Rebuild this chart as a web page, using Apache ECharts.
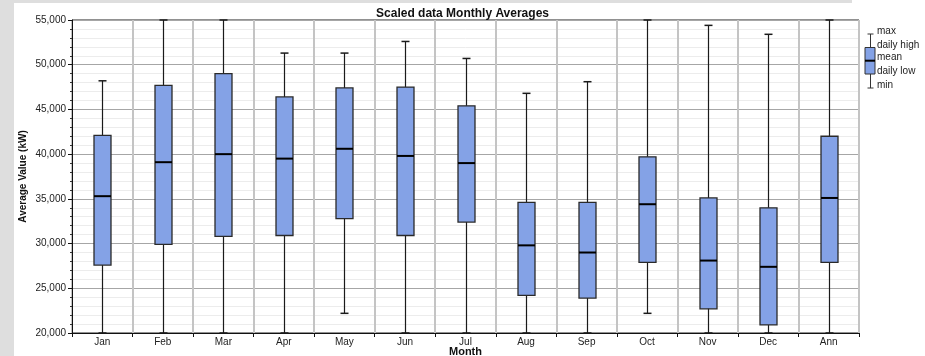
<!DOCTYPE html>
<html>
<head>
<meta charset="utf-8">
<script src="https://cdn.jsdelivr.net/npm/echarts@6/dist/echarts.min.js"></script>
<style>
html,body{margin:0;padding:0;background:#fff;}
#c{width:925px;height:356px;}
</style>
</head>
<body>
<div id="c"></div>
<script>
const months = ['Jan','Feb','Mar','Apr','May','Jun','Jul','Aug','Sep','Oct','Nov','Dec','Ann'];
const maxVals  = [48200, 55000, 55000, 51300, 51300, 52600, 50700, 46800, 48100, 55000, 54400, 53400, 55000];
const highVals = [42100, 47700, 49000, 46400, 47400, 47500, 45400, 34600, 34600, 39700, 35100, 34000, 42000];
const meanVals = [35300, 39100, 40000, 39500, 40600, 39800, 39000, 29800, 29000, 34400, 28100, 27400, 35100];
const lowVals  = [27600, 29900, 30800, 30900, 32800, 30900, 32400, 24200, 23900, 27900, 22700, 20900, 27900];
const minVals  = [20000, 20000, 20000, 20000, 22200, 20000, 20000, 20000, 20000, 22200, 20000, 20000, 20000];
const yTicks = [20000, 25000, 30000, 35000, 40000, 45000, 50000, 55000];

const FONT = '"Liberation Sans", Arial, sans-serif';
const BOX_FILL = '#84a2e6';

const chart = echarts.init(document.getElementById('c'), null, {renderer:'canvas'});

const data = months.map((m, i) => [i, maxVals[i], highVals[i], meanVals[i], lowVals[i], minVals[i]]);

function renderBox(params, api) {
  const x = api.value(0);
  const pMax = api.coord([x, api.value(1)]);
  const pHigh = api.coord([x, api.value(2)]);
  const pMean = api.coord([x, api.value(3)]);
  const pLow = api.coord([x, api.value(4)]);
  const pMin = api.coord([x, api.value(5)]);
  const cx = Math.round(pMax[0]) + 0.5;
  const bw = Math.round(api.size([1, 0])[0] * 0.28);
  const cap = 4;
  return {
    type: 'group',
    children: [
      {type:'line', shape:{x1:cx, y1:pMax[1], x2:cx, y2:pMin[1]}, style:{stroke:'#1a1a1a', lineWidth:1.2}},
      {type:'line', shape:{x1:cx-cap, y1:pMax[1], x2:cx+cap, y2:pMax[1]}, style:{stroke:'#1a1a1a', lineWidth:1.5}},
      {type:'line', shape:{x1:cx-cap, y1:pMin[1], x2:cx+cap, y2:pMin[1]}, style:{stroke:'#1a1a1a', lineWidth:1.5}},
      {type:'rect', shape:{x:cx-bw/2, y:pHigh[1], width:bw, height:pLow[1]-pHigh[1]}, style:{fill:BOX_FILL, stroke:'#2a2a2a', lineWidth:1.3}},
      {type:'line', shape:{x1:cx-bw/2, y1:pMean[1], x2:cx+bw/2, y2:pMean[1]}, style:{stroke:'#000', lineWidth:2}}
    ]
  };
}

// legend icon + labels
const lx = 870.5;
const legendTexts = [['max',32.7],['daily high',46],['mean',58.7],['daily low',72.7],['min',86]];
const graphics = [
  {type:'rect', shape:{x:0,y:0,width:14,height:356}, style:{fill:'#dedede'}, z:-10},
  {type:'rect', shape:{x:0,y:0,width:852,height:3}, style:{fill:'#dedede'}, z:-10},
  {type:'line', shape:{x1:lx,y1:34,x2:lx,y2:88}, style:{stroke:'#333',lineWidth:1}},
  {type:'line', shape:{x1:lx-3,y1:34,x2:lx+3,y2:34}, style:{stroke:'#333',lineWidth:1}},
  {type:'line', shape:{x1:lx-3,y1:88,x2:lx+3,y2:88}, style:{stroke:'#333',lineWidth:1}},
  {type:'rect', shape:{x:865,y:47.5,width:10,height:26.5}, style:{fill:BOX_FILL,stroke:'#333',lineWidth:1}},
  {type:'line', shape:{x1:865,y1:60.7,x2:875,y2:60.7}, style:{stroke:'#000',lineWidth:2}}
];
legendTexts.forEach(([t, y]) => {
  graphics.push({type:'text', left:877, top:y-6, style:{text:t, fill:'#222', font:'10px ' + FONT}});
});

chart.setOption({
  animation: false,
  backgroundColor: '#fff',
  title: {
    text: 'Scaled data Monthly Averages',
    left: 'center', top: 3,
    textStyle: {fontFamily: FONT, fontSize: 12, fontWeight: 'bold', color: '#111'}
  },
  grid: {left:72, right:66, top:20, bottom:23, show:true, borderColor:'#222', borderWidth:1,
    backgroundColor:'transparent', containLabel:false, outerBoundsMode:'none'},
  xAxis: {
    type: 'category',
    data: months,
    boundaryGap: true,
    name: 'Month',
    nameLocation: 'middle',
    nameGap: 13,
    nameMoveOverlap: false,
    nameTextStyle: {fontFamily: FONT, fontSize: 11, fontWeight: 'bold', color: '#111'},
    axisLine: {lineStyle:{color:'#111', width:1}},
    axisTick: {show:true, alignWithLabel:false, length:4, lineStyle:{color:'#111'}},
    axisLabel: {fontFamily: FONT, fontSize: 10, color:'#222', margin:4},
    splitLine: {show:true, lineStyle:{color:'#c4c4c4', width:2}}
  },
  yAxis: {
    type: 'value',
    min: yTicks[0], max: yTicks[yTicks.length-1], interval: 5000,
    name: 'Average Value (kW)',
    nameLocation: 'middle',
    nameGap: 44,
    nameMoveOverlap: false,
    nameTextStyle: {fontFamily: FONT, fontSize: 10, fontWeight: 'bold', color: '#111'},
    axisLine: {show:true, lineStyle:{color:'#111', width:1}},
    axisTick: {show:true, length:4, lineStyle:{color:'#111'}},
    minorTick: {show:true, splitNumber:5, length:2, lineStyle:{color:'#333'}},
    axisLabel: {fontFamily: FONT, fontSize: 10, color:'#222', margin:6,
      formatter: v => v.toLocaleString('en-US')},
    splitLine: {show:true, lineStyle:{color:'#a6a6a6', width:1}},
    minorSplitLine: {show:true, lineStyle:{color:'#ececec', width:1}}
  },
  series: [{
    type: 'custom',
    renderItem: renderBox,
    data: data,
    encode: {x: 0, y: [1, 2, 3, 4, 5]},
    clip: false,
    z: 5
  }],
  graphic: graphics
});
</script>
</body>
</html>
